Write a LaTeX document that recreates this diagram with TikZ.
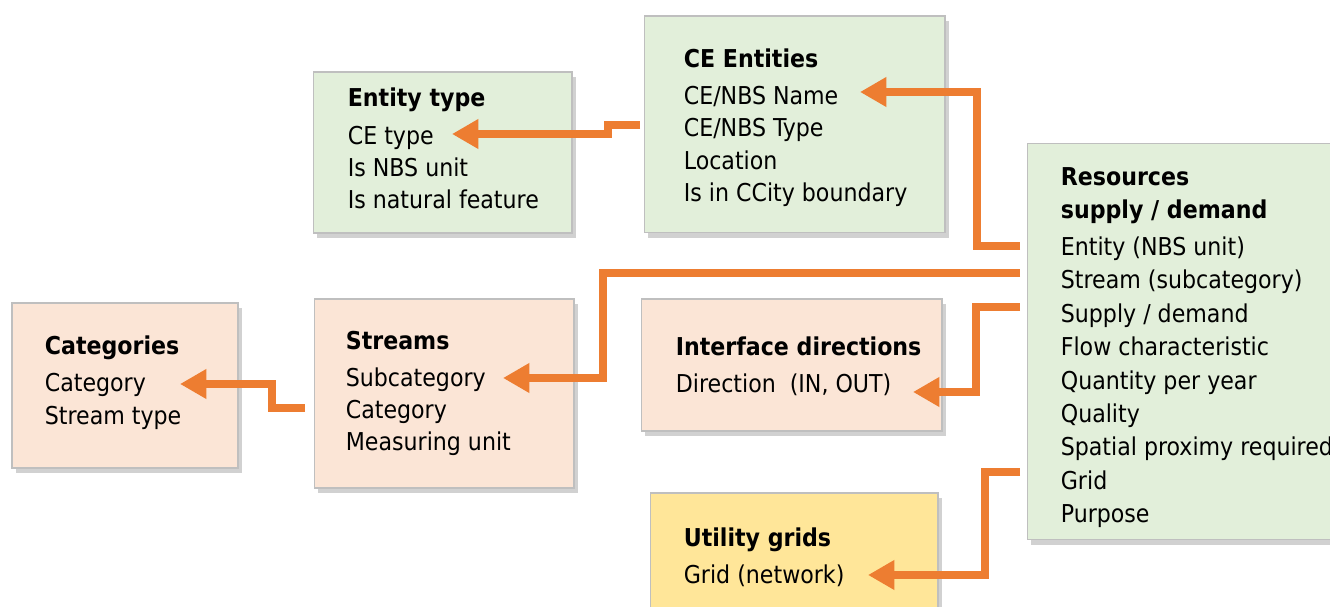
\documentclass[tikz,border=0pt]{standalone}
\usepackage{fontspec}
\setmainfont{DejaVu Sans Condensed}
\usepackage{xcolor}
\usetikzlibrary{arrows.meta,calc,positioning,shadows}
\definecolor{boxgreen}{HTML}{E2EFDA}
\definecolor{boxpeach}{HTML}{FBE5D6}
\definecolor{boxyellow}{HTML}{FFE699}
\definecolor{boxline}{HTML}{BFBFBF}
\definecolor{linkorange}{HTML}{ED7D31}
\tikzset{%
	entbox/.style  = {draw=boxline, line width=0.6pt, rectangle, drop shadow={shadow xshift=2.5pt, shadow yshift=-3pt, opacity=0.3, fill=black!60}},
	enttext/.style = {align=left, inner sep=0pt, font=\fontsize{14}{18.3}\selectfont},
	link/.style    = {draw=linkorange, line width=4.6pt, -{Triangle[length=15pt,width=16pt]}},
}
\begin{document}
\begin{tikzpicture}[x=0.02cm,y=-0.02cm]
	\useasboundingbox (0,0) rectangle (1330,607);
	% boxes
	\node[entbox, fill=boxgreen, minimum width=5.18cm, minimum height=3.22cm] (etype) at (442.5,152.5) {};
	\node[entbox, fill=boxgreen, minimum width=6.02cm, minimum height=4.34cm] (ent) at (794.5,124.5) {};
	\node[entbox, fill=boxgreen, minimum width=6.40cm, minimum height=7.94cm] (res) at (1187,341.5) {};
	\node[entbox, fill=boxpeach, minimum width=4.52cm, minimum height=3.30cm] (cat) at (125,385.5) {};
	\node[entbox, fill=boxpeach, minimum width=5.20cm, minimum height=3.78cm] (strm) at (444,393.5) {};
	\node[entbox, fill=boxpeach, minimum width=6.02cm, minimum height=2.64cm] (dir) at (791.5,365) {};
	\node[entbox, fill=boxyellow, minimum width=5.76cm, minimum height=2.56cm] (grid) at (794,557) {};
	% box texts
	\node[enttext, right=0.70cm of etype.west, yshift=0.08cm] (etypeTxt) {\textbf{Entity type}\\[3pt] CE type\\ Is NBS unit\\ Is natural feature};
	\node[enttext, right=0.80cm of ent.west, yshift=-0.06cm] (entTxt) {\textbf{CE Entities}\\[3pt] CE/NBS Name\\ CE/NBS Type\\ Location\\ Is in CCity boundary};
	\node[enttext, right=0.68cm of res.west, yshift=-0.12cm, font=\fontsize{14}{19}\selectfont] (resTxt) {\textbf{Resources}\\ \textbf{supply / demand}\\[2pt] Entity (NBS unit)\\ Stream (subcategory)\\ Supply / demand\\ Flow characteristic\\ Quantity per year\\ Quality\\ Spatial proximy required\\ Grid\\ Purpose};
	\node[enttext, right=0.66cm of cat.west, yshift=0.06cm] (catTxt) {\textbf{Categories}\\[3pt] Category\\ Stream type};
	\node[enttext, right=0.64cm of strm.west] (strmTxt) {\textbf{Streams}\\[3pt] Subcategory\\ Category\\ Measuring unit};
	\node[enttext, right=0.70cm of dir.west, yshift=-0.03cm] (dirTxt) {\textbf{Interface directions}\\[3pt] Direction~ (IN, OUT)};
	\node[enttext, right=0.68cm of grid.west] (gridTxt) {\textbf{Utility grids}\\[3pt] Grid (network)};
	% link ends
	\coordinate (rEnt) at (1020,246);
	\coordinate (rStream) at (1020,273);
	\coordinate (rDir) at (1020,307);
	\coordinate (rGrid) at (1020,472);
	\coordinate (eType) at (640,125);
	\coordinate (sCat) at (305,408);
	\coordinate (tName) at (860,92);
	\coordinate (tCEtype) at (452,134);
	\coordinate (tSub) at (503,378);
	\coordinate (tCat) at (180,384);
	\coordinate (tDir) at (913,392);
	\coordinate (tGrid) at (868,575);
	% links
	\draw[link] (rEnt) -- ++(-43,0) |- (tName);
	\draw[link] (eType) -- ++(-32,0) -- ++(0,9) -- (tCEtype);
	\draw[link] (rStream) -- ++(-417,0) |- (tSub);
	\draw[link] (sCat) -- ++(-33,0) |- (tCat);
	\draw[link] (rDir) -- ++(-44,0) |- (tDir);
	\draw[link] (rGrid) -- ++(-35,0) |- (tGrid);
\end{tikzpicture}
\end{document}
